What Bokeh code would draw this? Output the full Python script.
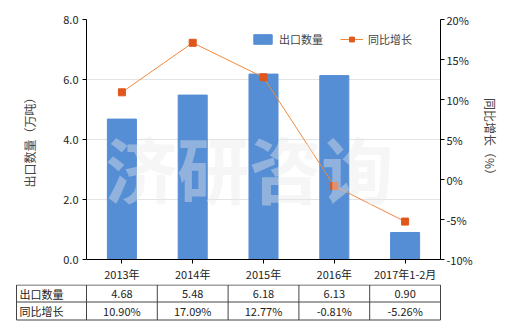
from bokeh.plotting import figure
from bokeh.models import (FactorRange, Range1d, LinearAxis, Legend, LegendItem,
                          FixedTicker, CustomJSTickFormatter, Label, ColumnDataSource)
from bokeh.embed import file_html
from bokeh.resources import INLINE
from bokeh.core.properties import value

categories = ["2013年", "2014年", "2015年", "2016年", "2017年1-2月"]
export_qty = [4.68, 5.48, 6.18, 6.13, 0.90]
growth_pct = [10.90, 17.09, 12.77, -0.81, -5.26]
left_ticks = [0, 2, 4, 6, 8]
right_ticks = [-10, -5, 0, 5, 10, 15, 20]
series_names = ["出口数量", "同比增长"]

FONT = "Noto Sans CJK SC"
BAR = "#558ED5"
LINE = "#F0883A"
MARK = "#E0561B"
TXT = "#222222"

src = ColumnDataSource(dict(cat=categories, qty=export_qty, pct=growth_pct))

FL, FW, FT, FH = 86, 354, 19, 240
PB = 24
p = figure(x_range=FactorRange(*categories, range_padding=0),
           y_range=Range1d(0, 8), output_backend="svg", toolbar_location=None,
           frame_width=FW, frame_height=FH,
           min_border_left=FL, min_border_right=520 - FL - FW, min_border_top=FT,
           min_border_bottom=PB)
p.outline_line_color = None
p.extra_y_ranges = {"pct": Range1d(-10, 20)}

bars = p.vbar(x="cat", top="qty", width=0.41, source=src, color=BAR)
ln = p.line(x="cat", y="pct", source=src, color=LINE, line_width=1, y_range_name="pct")
mk = p.scatter(x="cat", y="pct", source=src, marker="square", size=7, color=MARK,
               y_range_name="pct")

# watermark
p.add_layout(Label(x=2.3, y=3.1, text="济研咨询", text_font=FONT, text_font_size="72px",
                   text_font_style="bold", text_color="#E8E8E8", text_alpha=0.4,
                   text_align="center", text_baseline="middle"))

p.xgrid.visible = False
p.ygrid.ticker = FixedTicker(ticks=left_ticks)
p.ygrid.grid_line_color = "#E3E3E3"

for ax in [p.xaxis[0], p.yaxis[0]]:
    ax.axis_line_color = "black"
    ax.major_tick_line_color = "black"
    ax.minor_tick_line_color = None
    ax.major_tick_in = 0
    ax.major_tick_out = 4
    ax.major_label_text_font = FONT
    ax.major_label_text_font_size = "11px"
    ax.major_label_text_color = TXT

p.xaxis.major_label_standoff = 2
p.yaxis.ticker = FixedTicker(ticks=left_ticks)
p.yaxis.formatter = CustomJSTickFormatter(code="return tick.toFixed(1);")
p.yaxis.axis_label = "出口数量（万吨）"
p.yaxis.axis_label_text_font = FONT
p.yaxis.axis_label_text_font_size = "12px"
p.yaxis.axis_label_text_font_style = "normal"
p.yaxis.axis_label_standoff = 22
p.yaxis.major_label_standoff = 4

ra = LinearAxis(y_range_name="pct", ticker=FixedTicker(ticks=right_ticks),
                formatter=CustomJSTickFormatter(code="return tick + '%';"))
ra.axis_line_color = "black"
ra.major_tick_line_color = "black"
ra.minor_tick_line_color = None
ra.major_tick_in = 0
ra.major_tick_out = 4
ra.major_label_text_font = FONT
ra.major_label_text_font_size = "11px"
ra.major_label_text_color = TXT
ra.major_label_standoff = 2
ra.axis_label = "同比增长（%）"
ra.axis_label_text_font = FONT
ra.axis_label_text_font_size = "12px"
ra.axis_label_text_font_style = "normal"
ra.axis_label_standoff = 6
p.add_layout(ra, "right")

legend = Legend(items=[LegendItem(label=series_names[0], renderers=[bars]),
                       LegendItem(label=series_names[1], renderers=[ln, mk])],
                orientation="horizontal", location=(165, 212),
                label_text_font=FONT, label_text_font_size="11px",
                glyph_width=23, glyph_height=12, spacing=17, padding=0, margin=0,
                label_standoff=5, border_line_color=None, background_fill_alpha=0)
p.add_layout(legend)

# data table (separate figure, pixel coordinates from its top-left)
TH = 330 - (FT + FH + PB)
top_off = 0.5
t = figure(width=520, height=TH, frame_width=520, frame_height=TH,
           x_range=Range1d(0, 520), y_range=Range1d(TH, 0),
           output_backend="svg", toolbar_location=None, min_border=0)
t.outline_line_color = None
t.axis.visible = False
t.grid.visible = False

left_edge = 16
col_w = FW / len(categories)
row_y = [top_off, top_off + 17, top_off + 35]
x_edges = [left_edge, FL] + [FL + col_w * (i + 1) for i in range(len(categories))]
right_edge = x_edges[-1]
t.multi_line(xs=[[left_edge, right_edge] for _ in row_y], ys=[[y, y] for y in row_y],
             color="#444444", line_width=1)
t.multi_line(xs=[[x, x] for x in x_edges], ys=[[row_y[0], row_y[-1]] for _ in x_edges],
             color="#444444", line_width=1)

centers = [FL + col_w * (i + 0.5) for i in range(len(categories))]
row_mid = [(row_y[0] + row_y[1]) / 2, (row_y[1] + row_y[2]) / 2]
t.text(x=[left_edge + 3] * 2, y=row_mid, text=series_names, text_font=value(FONT),
       text_font_size="11px", text_align="left", text_baseline="middle", text_color=TXT)
t.text(x=centers, y=[row_mid[0]] * len(centers), text=[f"{v:.2f}" for v in export_qty],
       text_font=value(FONT), text_font_size="11px", text_align="center",
       text_baseline="middle", text_color=TXT)
t.text(x=centers, y=[row_mid[1]] * len(centers), text=[f"{v:.2f}%" for v in growth_pct],
       text_font=value(FONT), text_font_size="11px", text_align="center",
       text_baseline="middle", text_color=TXT)

open("out.html", "w").write(file_html([p, t], INLINE))
